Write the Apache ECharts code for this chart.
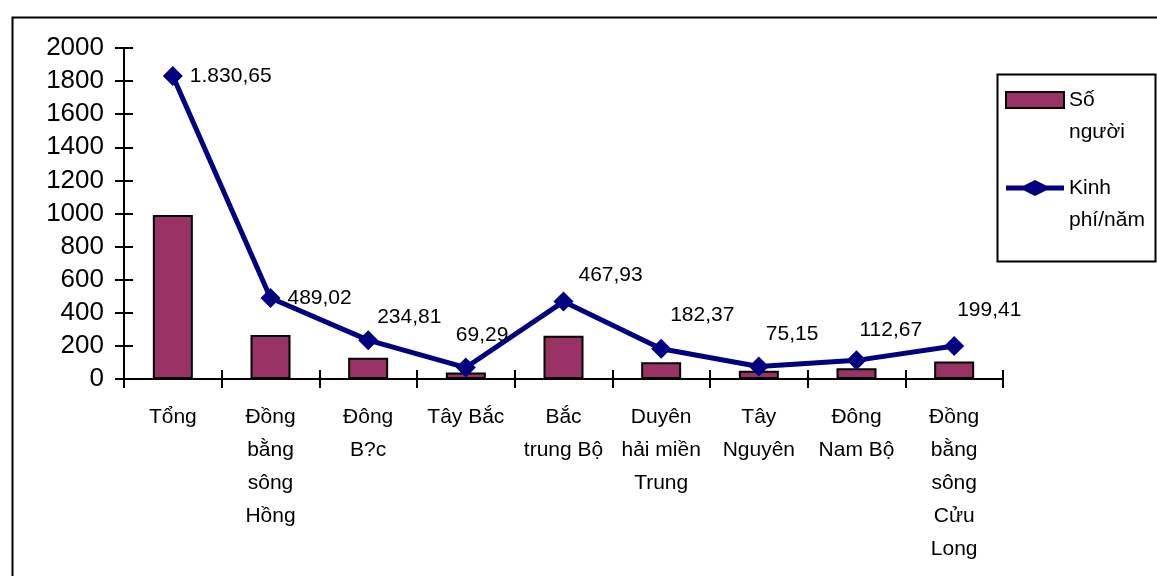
<!DOCTYPE html>
<html>
<head>
<meta charset="utf-8">
<script src="https://cdn.jsdelivr.net/npm/echarts@6/dist/echarts.min.js"></script>
<style>
  html, body { margin: 0; padding: 0; background: #ffffff; }
  #chart { width: 1157px; height: 576px; }
</style>
</head>
<body>
<div id="chart"></div>
<script>
// Regions (Vietnamese), people count (bars) and yearly budget (line)
const categories = [
  'Tổng',
  'Đồng\nbằng\nsông\nHồng',
  'Đông\nB?c',
  'Tây Bắc',
  'Bắc\ntrung Bộ',
  'Duyên\nhải miền\nTrung',
  'Tây\nNguyên',
  'Đông\nNam Bộ',
  'Đồng\nbằng\nsông\nCửu\nLong'
];
const soNguoi = [991, 266, 129, 40, 262, 101, 50, 65, 105];
const kinhPhi = [1830.65, 489.02, 234.81, 69.29, 467.93, 182.37, 75.15, 112.67, 199.41];
const yTicks = { min: 0, max: 2000, interval: 200 };

// Label placement for each line point (pixel offsets from the point's right side)
const labelOffsets = [
  [7, 0], [7, 0], [-1, -23], [-20, -32], [5, -26],
  [-1, -34], [-3, -32], [-7, -30], [-7, -36]
];

const FONT = '"Liberation Sans", Arial, sans-serif';

// Vietnamese number style: "." for thousands, "," for decimals
function viNumber(v) {
  const parts = v.toFixed(2).split('.');
  parts[0] = parts[0].replace(/\B(?=(\d{3})+(?!\d))/g, '.');
  return parts[0] + ',' + parts[1];
}

// Legend text: leading blank line keeps the first word level with the icon
const legendNames = { 'Số người': '\nSố\nngười', 'Kinh phí/năm': '\nKinh\nphí/năm' };

// Legend icon for the line series: thick line with a diamond in the middle
const lineIcon = 'path://M0 5.6 L18 5.6 L29 0 L40 5.6 L58 5.6 L58 10.4 L40 10.4 L29 16 L18 10.4 L0 10.4 Z';

const chart = echarts.init(document.getElementById('chart'), null, { renderer: 'canvas' });

chart.setOption({
  backgroundColor: '#ffffff',
  animation: false,
  textStyle: { fontFamily: FONT, color: '#000' },
  graphic: [
    {
      type: 'rect', left: 10, top: 15, silent: true,
      shape: { width: 1160, height: 580 },
      style: { fill: 'none', stroke: '#000', lineWidth: 2 }
    },
    {
      type: 'rect', left: 995, top: 72, silent: true,
      shape: { width: 158, height: 187 },
      style: { fill: 'none', stroke: '#000', lineWidth: 2 }
    }
  ],
  legend: {
    orient: 'vertical',
    left: 1005,
    top: 52,
    padding: 0,
    itemGap: -8,
    itemWidth: 58,
    itemHeight: 16,
    data: [
      { name: 'Số người', icon: 'rect' },
      { name: 'Kinh phí/năm', icon: lineIcon, itemStyle: { color: '#000080', borderWidth: 0 } }
    ],
    formatter: name => legendNames[name],
    textStyle: {
      fontFamily: FONT, fontSize: 21, color: '#000', lineHeight: 32
    }
  },
  grid: { left: 124, right: 154, top: 48, bottom: 197, containLabel: false },
  xAxis: [
    {
      type: 'category',
      data: categories,
      boundaryGap: true,
      axisLine: { show: true, lineStyle: { color: '#000', width: 2 } },
      axisTick: { show: true, length: 9, lineStyle: { color: '#000', width: 2 } },
      axisLabel: {
        interval: 0, margin: 22, color: '#000',
        fontFamily: FONT, fontSize: 21, lineHeight: 33, align: 'center'
      },
      splitLine: { show: false }
    },
    {
      type: 'category',
      data: categories,
      position: 'bottom',
      boundaryGap: true,
      axisLine: { show: false },
      axisTick: { show: true, inside: true, length: 9, lineStyle: { color: '#000', width: 2 } },
      axisLabel: { show: false },
      splitLine: { show: false }
    }
  ],
  yAxis: [
    {
      type: 'value',
      min: yTicks.min, max: yTicks.max, interval: yTicks.interval,
      axisLine: { show: true, lineStyle: { color: '#000', width: 2 } },
      axisTick: { show: true, length: 9, lineStyle: { color: '#000', width: 2 } },
      axisLabel: {
        margin: 20, color: '#000', fontFamily: FONT, fontSize: 26,
        formatter: v => String(v)
      },
      splitLine: { show: false }
    },
    {
      type: 'value',
      position: 'left',
      min: yTicks.min, max: yTicks.max, interval: yTicks.interval,
      axisLine: { show: false },
      axisTick: { show: true, inside: true, length: 9, lineStyle: { color: '#000', width: 2 } },
      axisLabel: { show: false },
      splitLine: { show: false }
    }
  ],
  series: [
    {
      name: 'Số người',
      type: 'bar',
      data: soNguoi,
      barWidth: 40,
      itemStyle: { color: '#993366', borderColor: '#000', borderWidth: 2 },
      z: 2
    },
    {
      name: 'Kinh phí/năm',
      type: 'line',
      data: kinhPhi.map((v, i) => ({
        value: v,
        label: { offset: labelOffsets[i] }
      })),
      symbol: 'diamond',
      symbolSize: 20,
      lineStyle: { color: '#000080', width: 5 },
      itemStyle: { color: '#000080' },
      label: {
        show: true,
        position: 'right',
        distance: 0,
        align: 'left',
        verticalAlign: 'middle',
        color: '#000',
        fontFamily: FONT,
        fontSize: 21,
        formatter: p => viNumber(p.value)
      },
      z: 3
    }
  ]
});
</script>
</body>
</html>
